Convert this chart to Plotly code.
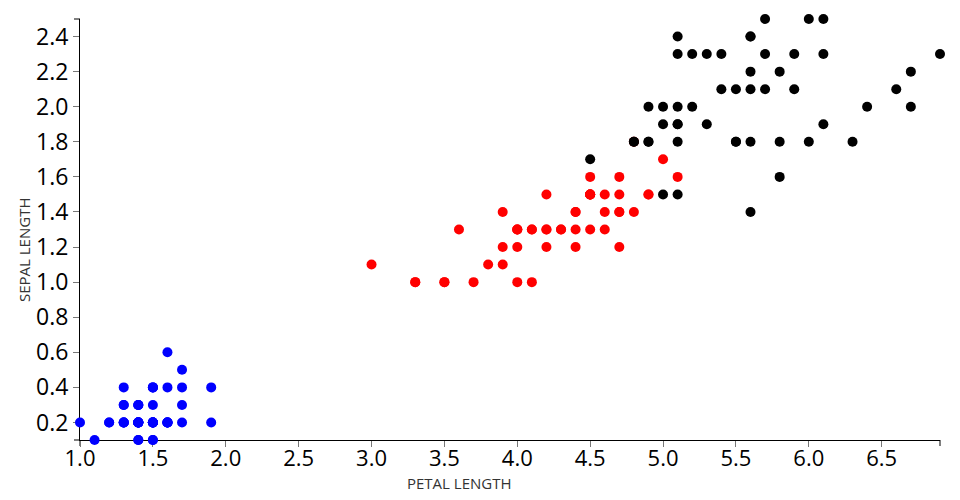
import plotly.graph_objects as go

# Iris data: petal length (x) and petal width (y)
setosa_x = [1.4,1.4,1.3,1.5,1.4,1.7,1.4,1.5,1.4,1.5,1.5,1.6,1.4,1.1,1.2,1.5,1.3,1.4,1.7,1.5,
            1.7,1.5,1.0,1.7,1.9,1.6,1.6,1.5,1.4,1.6,1.6,1.5,1.5,1.4,1.5,1.2,1.3,1.4,1.3,1.5,
            1.3,1.3,1.3,1.6,1.9,1.4,1.6,1.4,1.5,1.4]
setosa_y = [0.2,0.2,0.2,0.2,0.2,0.4,0.3,0.2,0.2,0.1,0.2,0.2,0.1,0.1,0.2,0.4,0.4,0.3,0.3,0.3,
            0.2,0.4,0.2,0.5,0.2,0.2,0.4,0.2,0.2,0.2,0.2,0.4,0.1,0.2,0.2,0.2,0.2,0.1,0.2,0.2,
            0.3,0.3,0.2,0.6,0.4,0.3,0.2,0.2,0.2,0.2]
versicolor_x = [4.7,4.5,4.9,4.0,4.6,4.5,4.7,3.3,4.6,3.9,3.5,4.2,4.0,4.7,3.6,4.4,4.5,4.1,4.5,3.9,
                4.8,4.0,4.9,4.7,4.3,4.4,4.8,5.0,4.5,3.5,3.8,3.7,3.9,5.1,4.5,4.5,4.7,4.4,4.1,4.0,
                4.4,4.6,4.0,3.3,4.2,4.2,4.2,4.3,3.0,4.1]
versicolor_y = [1.4,1.5,1.5,1.3,1.5,1.3,1.6,1.0,1.3,1.4,1.0,1.5,1.0,1.4,1.3,1.4,1.5,1.0,1.5,1.1,
                1.8,1.3,1.5,1.2,1.3,1.4,1.4,1.7,1.5,1.0,1.1,1.0,1.2,1.6,1.5,1.6,1.5,1.3,1.3,1.3,
                1.2,1.4,1.2,1.0,1.3,1.2,1.3,1.3,1.1,1.3]
virginica_x = [6.0,5.1,5.9,5.6,5.8,6.6,4.5,6.3,5.8,6.1,5.1,5.3,5.5,5.0,5.1,5.3,5.5,6.7,6.9,5.0,
               5.7,4.9,6.7,4.9,5.7,6.0,4.8,4.9,5.6,5.8,6.1,6.4,5.6,5.1,5.6,6.1,5.6,5.5,4.8,5.4,
               5.6,5.1,5.1,5.9,5.7,5.2,5.0,5.2,5.4,5.1]
virginica_y = [2.5,1.9,2.1,1.8,2.2,2.1,1.7,1.8,1.8,2.5,2.0,1.9,2.1,2.0,2.4,2.3,1.8,2.2,2.3,1.5,
               2.3,2.0,2.0,1.8,2.1,1.8,1.8,1.8,2.1,1.6,1.9,2.0,2.2,1.5,1.4,2.3,2.4,1.8,1.8,2.1,
               2.4,2.3,1.9,2.3,2.5,2.3,1.9,2.0,2.3,1.8]

x_ticks = [1.0,1.5,2.0,2.5,3.0,3.5,4.0,4.5,5.0,5.5,6.0,6.5]
y_ticks = [0.2,0.4,0.6,0.8,1.0,1.2,1.4,1.6,1.8,2.0,2.2,2.4]

fig = go.Figure()
for xs, ys, col in [(setosa_x, setosa_y, "#0000ff"),
                    (versicolor_x, versicolor_y, "#ff0000"),
                    (virginica_x, virginica_y, "#000000")]:
    fig.add_trace(go.Scatter(x=xs, y=ys, mode="markers", cliponaxis=False,
                             marker=dict(size=10, color=col, line=dict(width=0))))

L, R, T, B = 80, 20, 19, 60
pw, ph = 960 - L - R, 500 - T - B


def px(xp):
    return (xp - L) / pw


def py(yp):
    return (500 - B - yp) / ph


# outer (domain-end) ticks of the axes
outer = [((74, 440), (80, 440)), ((74, 19), (80, 19)),
         ((80, 440), (80, 446)), ((940, 440), (940, 446))]
shapes = [dict(type="line", xref="paper", yref="paper",
               x0=px(a[0]), y0=py(a[1]), x1=px(b[0]), y1=py(b[1]),
               line=dict(color="black", width=1), layer="below")
          for a, b in outer]

fig.update_layout(
    width=960, height=500,
    margin=dict(l=L, r=R, t=T, b=B, autoexpand=False),
    plot_bgcolor="white", paper_bgcolor="white",
    showlegend=False,
    font=dict(family="Open Sans", color="black"),
    shapes=shapes,
    xaxis=dict(range=[1.0, 6.9], tickvals=x_ticks, tickformat=".1f",
               showgrid=False, zeroline=False, showline=True, linecolor="black", linewidth=1,
               ticks="outside", ticklen=6, tickcolor="#777", tickfont=dict(size=22),
               ticklabelstandoff=-7,
               layer="below traces", automargin=False),
    yaxis=dict(range=[0.1, 2.5], tickvals=y_ticks, tickformat=".1f",
               showgrid=False, zeroline=False, showline=True, linecolor="black", linewidth=1,
               ticks="outside", ticklen=6, tickcolor="#777", tickfont=dict(size=23),
               layer="below traces", automargin=False),
    annotations=[
        dict(text="PETAL LENGTH", x=px(459), y=py(483),
             xref="paper", yref="paper", showarrow=False,
             xanchor="center", yanchor="middle",
             font=dict(size=15, color="#333")),
        dict(text="SEPAL LENGTH", x=px(24), y=py(250),
             xref="paper", yref="paper", showarrow=False,
             xanchor="center", yanchor="middle",
             textangle=-90, font=dict(size=15, color="#333")),
    ],
)

fig.write_html("out.html", config={"displayModeBar": False},
               post_script="document.body.style.margin='0';")
